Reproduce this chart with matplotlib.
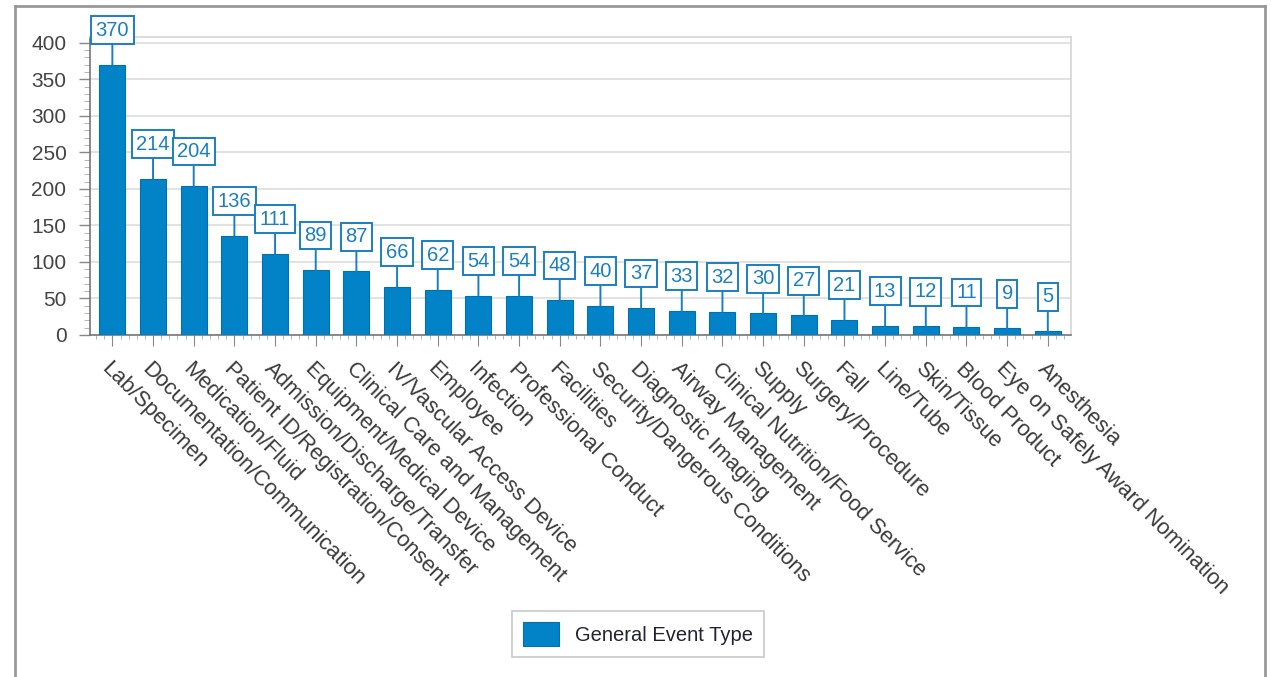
import matplotlib.pyplot as plt
from matplotlib.lines import Line2D
from matplotlib.ticker import MultipleLocator

categories = ["Lab/Specimen", "Documentation/Communication", "Medication/Fluid",
              "Patient ID/Registration/Consent", "Admission/Discharge/Transfer",
              "Equipment/Medical Device", "Clinical Care and Management",
              "IV/Vascular Access Device", "Employee", "Infection",
              "Professional Conduct", "Facilities", "Security/Dangerous Conditions",
              "Diagnostic Imaging", "Airway Management",
              "Clinical Nutrition/Food Service", "Supply", "Surgery/Procedure",
              "Fall", "Line/Tube", "Skin/Tissue", "Blood Product",
              "Eye on Safely Award Nomination", "Anesthesia"]
counts = [370, 214, 204, 136, 111, 89, 87, 66, 62, 54, 54, 48, 40, 37, 33, 32,
          30, 27, 21, 13, 12, 11, 9, 5]
series_name = "General Event Type"

blue = "#0283c8"
label_blue = "#1a7fc0"

plt.rcParams['font.family'] = ['Liberation Sans', 'DejaVu Sans']

fig = plt.figure(figsize=(12.71, 6.77), dpi=100)
ax = fig.add_axes([90 / 1271, 1 - 335 / 677, (1071 - 90) / 1271, (335 - 37) / 677])

x = list(range(len(categories)))
ax.bar(x, counts, width=0.64, color=blue, edgecolor="#0070b0", linewidth=0.8,
       label=series_name, zorder=3)

for i, v in zip(x, counts):
    ax.annotate(str(v), xy=(i, v), xytext=(0, 25), textcoords="offset pixels",
                ha="center", va="bottom", fontsize=14.5, color=label_blue,
                bbox=dict(boxstyle="square,pad=0.22", fc="white", ec=label_blue, lw=1.4),
                arrowprops=dict(arrowstyle="-", color=label_blue, lw=1.4,
                                shrinkA=0, shrinkB=0),
                zorder=4, annotation_clip=False)

ax.set_xlim(-0.55, len(categories) - 0.43)
ax.set_ylim(0, 408)
ax.yaxis.set_major_locator(MultipleLocator(50))
ax.yaxis.set_minor_locator(MultipleLocator(10))
ax.set_xticks(x)
ax.xaxis.set_minor_locator(MultipleLocator(0.2))
ax.set_xticklabels(categories, rotation=-45, ha="left", va="top",
                   rotation_mode="anchor", fontsize=15.8, color="#3a3a3a")
ax.tick_params(axis="y", labelsize=15, labelcolor="#444444", color="#888888",
               length=8, width=1, pad=9)
ax.tick_params(axis="y", which="minor", length=4, color="#aaaaaa")
ax.tick_params(axis="x", which="major", length=8, color="#888888", pad=9)
ax.tick_params(axis="x", which="minor", length=3, color="#aaaaaa")

ax.grid(axis="y", color="#dddddd", linewidth=1.2, zorder=0)
for s in ["left", "bottom"]:
    ax.spines[s].set_color("#777777")
    ax.spines[s].set_linewidth(1.2)
for s in ["top", "right"]:
    ax.spines[s].set_color("#d5d5d5")
    ax.spines[s].set_linewidth(1.2)

leg = fig.legend(loc="center", bbox_to_anchor=(638 / 1271, 1 - 634 / 677),
                 fontsize=14.5, frameon=True, fancybox=False, handlelength=1.8,
                 handleheight=1.5, borderpad=0.55)
leg.get_frame().set_edgecolor("#bbbbbb")
leg.get_frame().set_linewidth(1.2)
for t in leg.get_texts():
    t.set_color("#222233")

# outer frame
fx0, fx1, fy = 15 / 1271, 1265 / 1271, 1 - 6 / 677
for xs, ys in [([fx0, fx0], [0, fy]), ([fx0, fx1], [fy, fy]), ([fx1, fx1], [fy, 0])]:
    fig.add_artist(Line2D(xs, ys, transform=fig.transFigure, color="#999999", lw=2))

fig.savefig("out.png", dpi=100)
